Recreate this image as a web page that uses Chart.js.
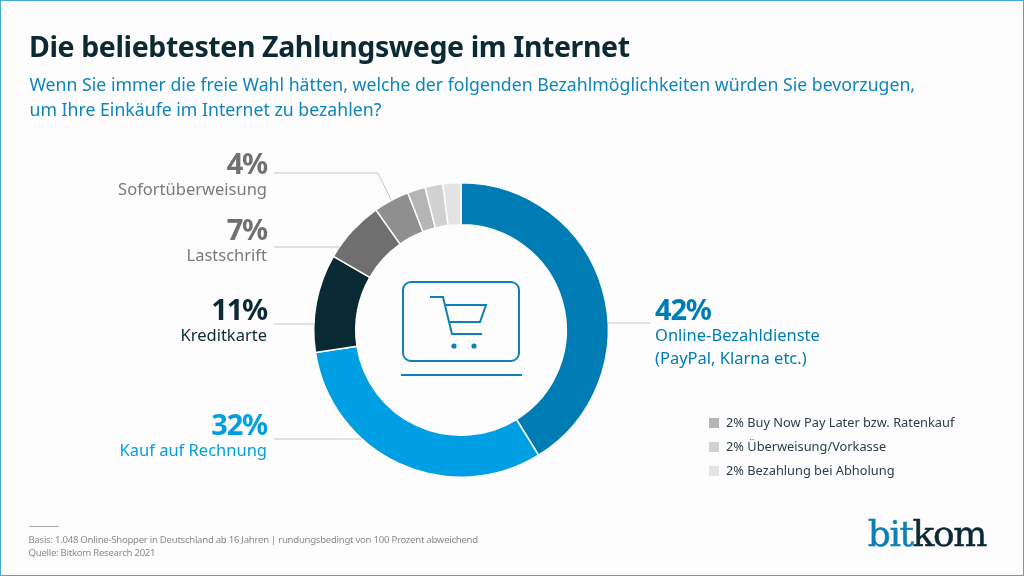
<!DOCTYPE html>
<html lang="de">
<head>
<meta charset="utf-8">
<title>Die beliebtesten Zahlungswege im Internet</title>
<script src="https://cdn.jsdelivr.net/npm/chart.js@4/dist/chart.umd.min.js"></script>
<style>
  html, body { margin: 0; padding: 0; background: #fdfdfd; }
  #frame { position: relative; width: 1024px; height: 576px; overflow: hidden; background: #fdfdfd;
    box-sizing: border-box; border: 1.5px solid #4aa9d2; }
  #myChart { position: absolute; left: -1.5px; top: -1.5px; }
  .txt { position: absolute; white-space: nowrap; font-family: "Noto Sans", sans-serif; }
  #title { left: 28px; top: 26px; font-size: 28.5px; font-weight: 700; letter-spacing: -0.4px; color: #0b2a33; }
  #subtitle { left: 28.5px; top: 71px; font-size: 17.7px; line-height: 25px; color: #0f85bb; }
  #source { left: 27.5px; top: 532px; font-size: 9.6px; line-height: 13px; letter-spacing: -0.27px; color: #8a8a8a; }
  #rule { position: absolute; left: 27.5px; top: 525px; width: 30px; height: 1px; background: #a8a8a8; }
  #logo { right: 37px; top: 512px; font-family: "DejaVu Serif", serif; font-size: 36px; color: #0b2a33; letter-spacing: -1.4px; -webkit-text-stroke: 0.5px; }
  #logo span { color: #0f7fb5; }
</style>
</head>
<body>
<div id="frame">
  <canvas id="myChart" width="1024" height="576"></canvas>
  <div class="txt" id="title">Die beliebtesten Zahlungswege im Internet</div>
  <div class="txt" id="subtitle">Wenn Sie immer die freie Wahl hätten, welche der folgenden Bezahlmöglichkeiten würden Sie bevorzugen,<br>um Ihre Einkäufe im Internet zu bezahlen?</div>
  <div id="rule"></div>
  <div class="txt" id="source">Basis: 1.048 Online-Shopper in Deutschland ab 16 Jahren | rundungsbedingt von 100 Prozent abweichend<br>Quelle: Bitkom Research 2021</div>
  <div class="txt" id="logo"><span>bit</span>kom</div>
</div>
<script>
const categories = ['Online-Bezahldienste (PayPal, Klarna etc.)', 'Kauf auf Rechnung', 'Kreditkarte', 'Lastschrift', 'Sofortüberweisung', 'Buy Now Pay Later bzw. Ratenkauf', 'Überweisung/Vorkasse', 'Bezahlung bei Abholung'];
const values = [42, 32, 11, 7, 4, 2, 2, 2];
const colors = ['#007cb4', '#009fe3', '#0a2a33', '#6f6f6f', '#8f8f8f', '#b5b5b5', '#d1d1d1', '#e3e3e3'];

// callouts next to the ring: index into values, text lines, where the text sits
const callouts = [
  { i: 0, lines: ['Online-Bezahldienste', '(PayPal, Klarna etc.)'], side: 'left', x: 655, y: 320, lineY: 323, color: '#007cb4', bigColor: '#007cb4' },
  { i: 1, lines: ['Kauf auf Rechnung'], side: 'right', x: 267, y: 435, lineY: 439, color: '#009fe3', bigColor: '#009fe3' },
  { i: 2, lines: ['Kreditkarte'], side: 'right', x: 267, y: 320, lineY: 324, color: '#0b2a33', bigColor: '#0b2a33' },
  { i: 3, lines: ['Lastschrift'], side: 'right', x: 267, y: 240, lineY: 247, color: '#7a7a7a', bigColor: '#707070' },
  { i: 4, lines: ['Sofortüberweisung'], side: 'right', x: 267, y: 174, lineY: 173, color: '#7a7a7a', bigColor: '#707070', elbow: 378 },
];
const legendItems = [5, 6, 7];

const ringLabels = {
  id: 'ringLabels',
  afterDatasetsDraw(chart) {
    const { ctx } = chart;
    const arcs = chart.getDatasetMeta(0).data;
    const { x: cx, y: cy, outerRadius: r } = arcs[0];

    ctx.save();
    ctx.textBaseline = 'alphabetic';
    callouts.forEach((c) => {
      // leader line, stops on the outer edge of the ring
      ctx.beginPath();
      ctx.strokeStyle = '#c4c4c4';
      ctx.lineWidth = 1;
      const dy = c.lineY - cy;
      const reach = Math.sqrt(r * r - dy * dy);
      if (c.elbow) {
        const mid = (arcs[c.i].startAngle + arcs[c.i].endAngle) / 2;
        ctx.moveTo(274, c.lineY);
        ctx.lineTo(c.elbow, c.lineY);
        ctx.lineTo(cx + Math.cos(mid) * r, cy + Math.sin(mid) * r);
      } else if (c.side === 'left') {
        ctx.moveTo(cx + reach, c.lineY);
        ctx.lineTo(c.x - 5, c.lineY);
      } else {
        ctx.moveTo(c.x + 7, c.lineY);
        ctx.lineTo(cx - reach, c.lineY);
      }
      ctx.stroke();

      ctx.textAlign = c.side;
      ctx.fillStyle = c.bigColor;
      ctx.font = '700 29px "Noto Sans"';
      ctx.letterSpacing = '-1.2px';
      ctx.fillText(values[c.i] + '%', c.x, c.y);
      ctx.letterSpacing = '0px';
      ctx.fillStyle = c.color;
      ctx.font = '16.5px "Noto Sans"';
      c.lines.forEach((line, n) => ctx.fillText(line, c.x, c.y + 21 + n * 23));
    });

    // small segments get a legend instead of a callout
    ctx.font = '12.8px "Noto Sans"';
    ctx.textAlign = 'left';
    legendItems.forEach((i, n) => {
      const y = 418 + n * 24;
      ctx.fillStyle = colors[i];
      ctx.fillRect(709, y, 10, 10);
      ctx.fillStyle = '#2a3f47';
      ctx.fillText(values[i] + '% ' + categories[i], 726, y + 9);
    });

    // shopping cart icon in the middle of the ring
    ctx.strokeStyle = '#0f7fb5';
    ctx.fillStyle = '#0f7fb5';
    ctx.lineWidth = 2;
    ctx.beginPath();
    ctx.roundRect(403, 282, 116, 79, 8);
    ctx.stroke();
    ctx.beginPath();
    ctx.moveTo(401, 375);
    ctx.lineTo(522, 375);
    ctx.moveTo(430, 297);
    ctx.lineTo(443, 297);
    ctx.lineTo(452, 334);
    ctx.lineTo(482, 334);
    ctx.moveTo(445, 305);
    ctx.lineTo(486, 305);
    ctx.lineTo(480, 322);
    ctx.lineTo(449, 322);
    ctx.stroke();
    [454, 474].forEach((x) => {
      ctx.beginPath();
      ctx.arc(x, 346, 2.6, 0, Math.PI * 2);
      ctx.fill();
    });
    ctx.restore();
  }
};

new Chart(document.getElementById('myChart'), {
  type: 'doughnut',
  data: {
    labels: categories,
    datasets: [{
      data: values,
      backgroundColor: colors,
      borderColor: '#fdfdfd',
      borderWidth: 1.5,
      borderAlign: 'center'
    }]
  },
  options: {
    responsive: false,
    animation: false,
    cutout: '71.5%',
    layout: { padding: { left: 313, right: 415, top: 182, bottom: 98 } },
    plugins: {
      legend: { display: false },
      tooltip: { enabled: false }
    }
  },
  plugins: [ringLabels]
});
</script>
</body>
</html>
